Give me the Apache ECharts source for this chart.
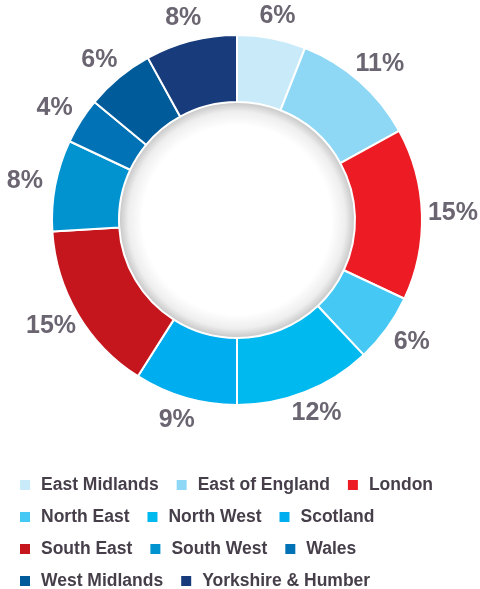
<!DOCTYPE html>
<html>
<head>
<meta charset="utf-8">
<script src="https://cdn.jsdelivr.net/npm/echarts@6/dist/echarts.min.js"></script>
<style>
  html, body { margin: 0; padding: 0; background: #fff; }
  #main { width: 480px; height: 589px; }
</style>
</head>
<body>
<div id="main"></div>
<script>
// regions and their share (%)
const regions = ['East Midlands', 'East of England', 'London', 'North East', 'North West',
  'Scotland', 'South East', 'South West', 'Wales', 'West Midlands', 'Yorkshire & Humber'];
const shares = [6, 11, 15, 6, 12, 9, 15, 8, 4, 6, 8];
const colors = ['#c8eaf9', '#8ed8f6', '#ed1c24', '#45c8f4', '#00b9ee', '#00adee',
  '#c4161c', '#0093d0', '#0072b5', '#005b9b', '#173b7b'];
// legend rows as in the picture
const legendRows = [
  ['East Midlands', 'East of England', 'London'],
  ['North East', 'North West', 'Scotland'],
  ['South East', 'South West', 'Wales'],
  ['West Midlands', 'Yorkshire & Humber']
];

const center = [237, 220];
const chart = echarts.init(document.getElementById('main'));

const legends = legendRows.map((row, i) => ({
  data: row,
  left: 18,
  top: 476 + i * 32,
  padding: 0,
  itemGap: 16,
  itemWidth: 12,
  itemHeight: 12,
  icon: 'rect',
  selectedMode: false,
  textStyle: {
    fontFamily: 'Liberation Sans, Arial, sans-serif',
    fontWeight: 'bold',
    fontSize: 17.5,
    color: '#463f4a',
    padding: [0, 0, 0, 5]
  }
}));

// side labels sit a little further out than top/bottom ones (wider text)
const total = shares.reduce((a, b) => a + b, 0);
let acc = 0;
const labelData = shares.map((v, i) => {
  const mid = (acc + v / 2) / total * Math.PI * 2;
  acc += v;
  return { name: 'lbl' + i, value: v, label: { offset: [Math.sin(mid) * 8, 0] } };
});

chart.setOption({
  backgroundColor: '#fff',
  animation: false,
  legend: legends,
  series: [
    {
      // inner hole with a soft shadow at the edge
      type: 'pie',
      center: center,
      radius: [0, 118],
      silent: true,
      label: { show: false },
      labelLine: { show: false },
      itemStyle: {
        color: {
          type: 'radial', x: 0.5, y: 0.5, r: 0.5,
          colorStops: [
            { offset: 0, color: '#ffffff' },
            { offset: 0.8, color: '#ffffff' },
            { offset: 0.92, color: '#eeeeee' },
            { offset: 1, color: '#c6c6c6' }
          ]
        }
      },
      data: [{ name: 'hole', value: 1 }]
    },
    {
      type: 'pie',
      center: center,
      radius: [118, 185],
      startAngle: 90,
      clockwise: true,
      silent: true,
      label: { show: false },
      labelLine: { show: false },
      itemStyle: { borderColor: '#fff', borderWidth: 2 },
      data: regions.map((r, i) => ({ name: r, value: shares[i], itemStyle: { color: colors[i] } }))
    },
    {
      // transparent ring that only carries the percent labels
      type: 'pie',
      center: center,
      radius: [183, 227],
      startAngle: 90,
      clockwise: true,
      silent: true,
      itemStyle: { color: 'rgba(0,0,0,0)' },
      labelLine: { show: false },
      label: {
        show: true,
        position: 'inside',
        formatter: '{c}%',
        fontFamily: 'Liberation Sans, Arial, sans-serif',
        fontWeight: 'bold',
        fontSize: 25,
        color: '#6b6571'
      },
      data: labelData
    }
  ]
});
</script>
</body>
</html>
